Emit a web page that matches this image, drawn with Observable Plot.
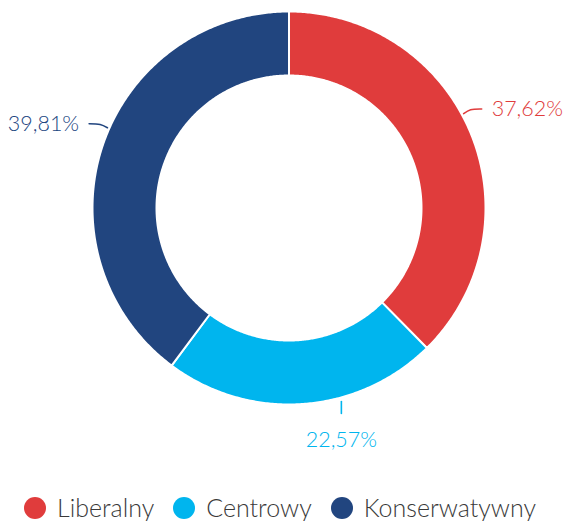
<!DOCTYPE html>
<html><head><meta charset="utf-8">
<script src="https://cdn.jsdelivr.net/npm/d3@7"></script>
<script src="https://cdn.jsdelivr.net/npm/@observablehq/plot@0.6"></script>
<style>
html,body{margin:0;background:#fff;font-family:Lato,"Open Sans",sans-serif;}
#chart svg{display:block;}
#legend{display:flex;align-items:center;margin-top:10px;height:27px;line-height:27px;padding-left:24px;font-size:25px;font-weight:300;color:#3a3a3a;}
#legend .item{display:flex;align-items:center;margin-right:19px;}
#legend .sw{width:22px;height:22px;border-radius:50%;margin-right:11px;}
</style></head><body><div id="chart"></div><script>
const categories = ["Liberalny", "Centrowy", "Konserwatywny"];
const values = [37.62, 22.57, 39.81];
const labels = ["37,62%", "22,57%", "39,81%"];
const colors = ["#E03C3C", "#00B5EE", "#21457F"];

// layout
const W = 567, H = 484, cx = 288.5, cy = 207.5, R = 196.5, R0 = 132.5;
const labelShift = [-6.1, -11.2, 5.5]; // degrees relative to slice midpoint
const total = d3.sum(values);
const pt = (deg, rho) => { const t = deg * Math.PI / 180; return [rho * Math.sin(t), rho * Math.cos(t)]; };

const arcPts = [], leaders = [], texts = [];
let acc = 0;
values.forEach((v, i) => {
  const a0 = acc / total * 360, a1 = (acc + v) / total * 360; acc += v;
  const n = Math.max(2, Math.ceil((a1 - a0) / 0.5));
  for (let k = 0; k <= n; k++) { const [x, y] = pt(a0 + (a1 - a0) * k / n, R); arcPts.push({x, y, s: i}); }
  for (let k = n; k >= 0; k--) { const [x, y] = pt(a0 + (a1 - a0) * k / n, R0); arcPts.push({x, y, s: i}); }
  const mid = (a0 + a1) / 2 + labelShift[i];
  const side = Math.abs(Math.sin(mid * Math.PI / 180)) < 0.4 ? "below" : (Math.sin(mid * Math.PI / 180) > 0 ? "right" : "left");
  if (side === "below") {
    const p0 = pt(mid, R + 4), p1 = [p0[0], p0[1] - 12];
    leaders.push({x: p0[0], y: p0[1], s: i}, {x: p1[0], y: p1[1], s: i});
    texts.push({x: p1[0], y: p1[1] - 27, t: labels[i], s: i, anchor: "middle"});
  } else {
    const dir = side === "right" ? 1 : -1;
    const p0 = pt(mid, R + 2), p1 = pt(mid, R + 10), p2 = [p1[0] + dir * 11, p1[1] + 0.8];
    leaders.push({x: p0[0], y: p0[1], s: i}, {x: p1[0], y: p1[1], s: i}, {x: p2[0], y: p2[1], s: i});
    texts.push({x: p2[0] + dir * 10, y: p2[1], t: labels[i], s: i, anchor: side === "right" ? "start" : "end"});
  }
});

const chart = Plot.plot({
  width: W, height: H, margin: 0,
  x: {domain: [-cx, W - cx], axis: null},
  y: {domain: [-(H - cy), cy], axis: null},
  style: {fontFamily: "Lato, 'Open Sans', sans-serif", background: "#fff"},
  marks: [
    Plot.line(arcPts, {x: "x", y: "y", z: "s", fill: d => colors[d.s], stroke: "#fff", strokeWidth: 2, curve: "linear-closed"}),
    Plot.line(leaders, {x: "x", y: "y", z: "s", stroke: d => colors[d.s], strokeWidth: 1.6, curve: "catmull-rom"}),
    ...["start", "end", "middle"].map(a => Plot.text(texts, {x: "x", y: "y", text: "t", fill: d => colors[d.s],
      textAnchor: a, fontSize: 21.5, fontWeight: 300, filter: d => d.anchor === a}))
  ]
});
document.getElementById("chart").append(chart);

const lg = document.createElement("div"); lg.id = "legend";
categories.forEach((c, i) => {
  const it = document.createElement("div"); it.className = "item";
  const sw = document.createElement("span"); sw.className = "sw"; sw.style.background = colors[i];
  const tx = document.createElement("span"); tx.textContent = c;
  it.append(sw, tx); lg.append(it);
});
document.body.append(lg);
</script></body></html>
